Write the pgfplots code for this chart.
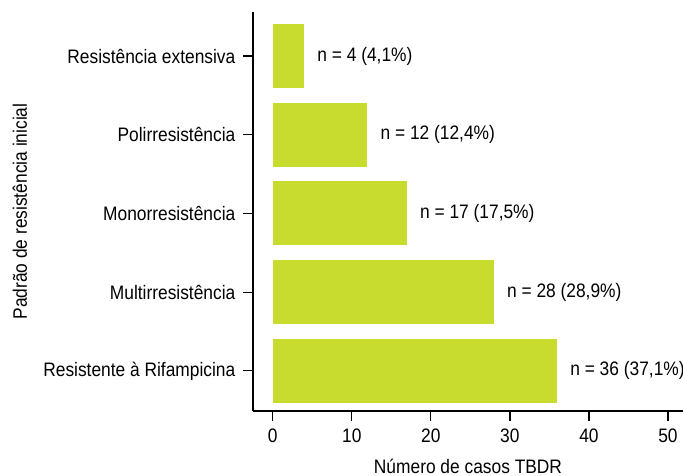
\documentclass[border=0pt]{standalone}
\usepackage{pgfplots}
\pgfplotsset{compat=1.18}
\usepackage{fontspec}
\setmainfont{Liberation Sans}[FakeStretch=0.89]
\definecolor{barc}{HTML}{C8DC2F}
\begin{document}
\fontsize{19.5bp}{23bp}\selectfont
\begin{tikzpicture}[x=1bp,y=1bp]
\useasboundingbox (0,0) rectangle (683,476);
\clip (0,0) rectangle (683,476);
\begin{axis}[
  at={(253bp,65bp)}, anchor=south west,
  scale only axis, width=430bp, height=399bp,
  xmin=-2.5, xmax=51.9, ymin=-0.51, ymax=4.56,
  axis x line*=bottom, axis y line*=left,
  axis line style={line width=1.2bp, -},
  xtick={0,10,20,30,40,50},
  ytick={0,1,2,3,4},
  yticklabels={Resistente à Rifampicina, Multirresistência, Monorresistência, Polirresistência, Resistência extensiva},
  tick align=outside, major tick length=10bp,
  tick style={line width=1.2bp, black},
  /pgf/number format/assume math mode=true,
  ticklabel style={font=\fontsize{19.5bp}{23bp}\selectfont},
  xticklabel style={yshift=-1bp},
  yticklabel style={xshift=-1bp},
  xlabel={Número de casos TBDR},
  ylabel={Padrão de resistência inicial},
  label style={font=\fontsize{19.5bp}{23bp}\selectfont},
  xlabel style={at={(axis description cs:0.5,0)}, anchor=center, yshift=-55bp},
  ylabel style={at={(axis description cs:-0.542,0.5)}, anchor=center},
  clip=false,
  xbar, bar width=65bp, bar shift=0pt,
  point meta=explicit symbolic,
  nodes near coords, nodes near coords align={horizontal},
  every node near coord/.append style={anchor=west, xshift=6bp, font=\fontsize{19.5bp}{23bp}\selectfont, text=black},
]
\addplot[fill=barc, draw=white, line width=1bp] coordinates {
  (36,0) [{n = 36 (37,1\%)}]
  (28,1) [{n = 28 (28,9\%)}]
  (17,2) [{n = 17 (17,5\%)}]
  (12,3) [{n = 12 (12,4\%)}]
  (4,4) [{n = 4 (4,1\%)}]
};
\end{axis}
\end{tikzpicture}
\end{document}
